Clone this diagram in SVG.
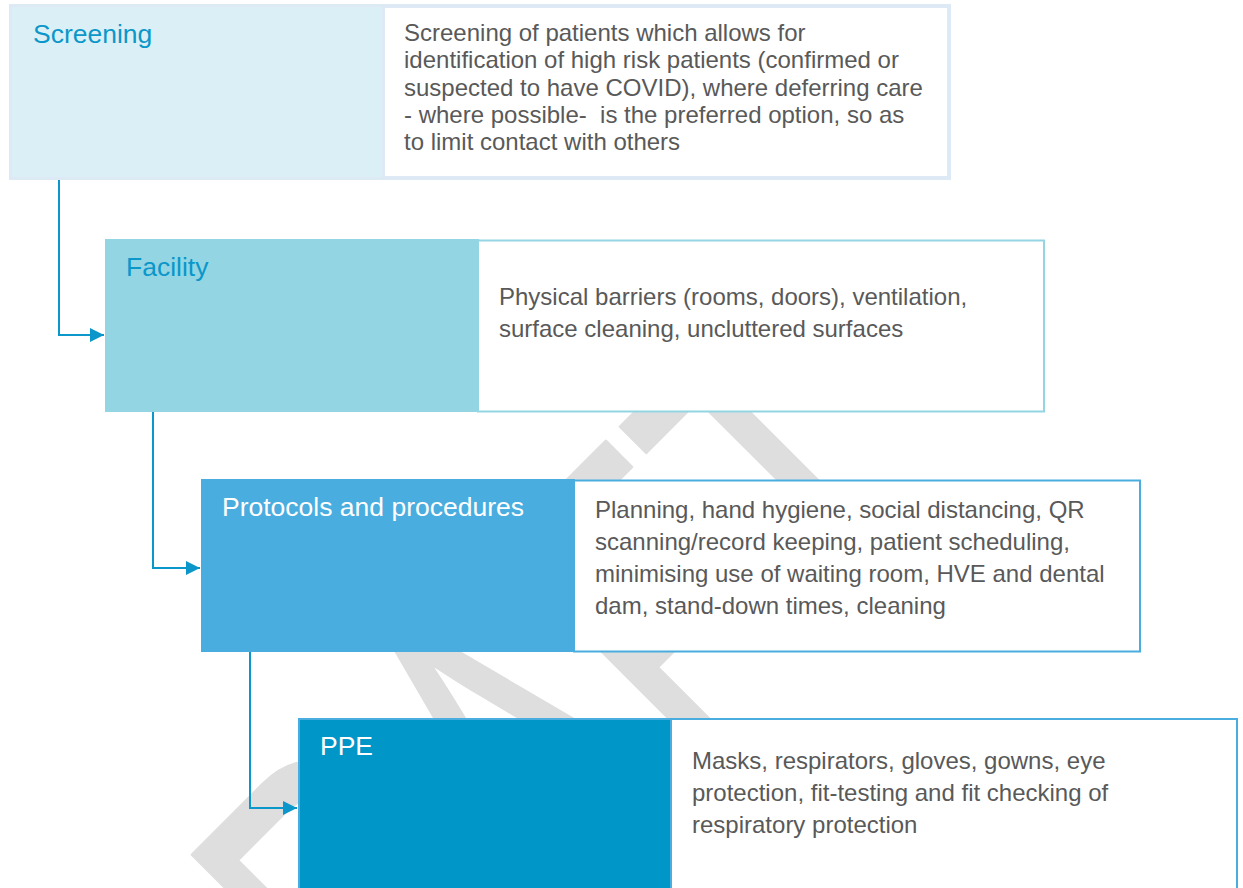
<svg xmlns="http://www.w3.org/2000/svg" width="1243" height="888" viewBox="0 0 1243 888">
<style>
.lbl{font-family:"Liberation Sans",Arial,sans-serif;font-size:26.5px}
.desc{font-family:"Liberation Sans",Arial,sans-serif;font-size:24px;fill:#595959}
.conn{fill:none;stroke:#0b97c9;stroke-width:2}
.wm{font-family:"Liberation Sans",Arial,sans-serif;font-size:480px;fill:#dedede;stroke:#dedede;stroke-width:3;stroke-linejoin:round}
</style>
<defs>
<marker id="arr" viewBox="0 0 10 10" refX="10" refY="5" markerWidth="14" markerHeight="14" markerUnits="userSpaceOnUse" orient="auto">
<path d="M0,0 L10,5 L0,10 z" fill="#0b97c9"/>
</marker>
</defs>
<rect width="1243" height="888" fill="#ffffff"/>
<g id="watermark">
<text class="wm" transform="translate(248,1266) rotate(-45) scale(0.65,1)">DRAFT</text>
</g>
<g id="connectors">
<path class="conn" d="M59,180 V335 H104" marker-end="url(#arr)"/>
<path class="conn" d="M153,412 V568 H200" marker-end="url(#arr)"/>
<path class="conn" d="M250,652 V808 H297" marker-end="url(#arr)"/>
</g>
<g id="screening">
<rect x="383" y="6" width="566" height="172" fill="#ffffff" stroke="#dde9f4" stroke-width="4"/>
<rect x="10.5" y="5.5" width="373" height="173" fill="#daf0f6" stroke="#dde9f4" stroke-width="3"/>
<text class="lbl" x="33" y="43" fill="#0b97c9">Screening</text>
<text class="desc">
<tspan x="404" y="41">Screening of patients which allows for</tspan>
<tspan x="404" y="68.3">identification of high risk patients (confirmed or</tspan>
<tspan x="404" y="95.6">suspected to have COVID), where deferring care</tspan>
<tspan x="404" y="122.9">- where possible-&#160; is the preferred option, so as</tspan>
<tspan x="404" y="150.2">to limit contact with others</tspan>
</text>
</g>
<g id="facility">
<rect x="478" y="240.5" width="566" height="171" fill="#ffffff" stroke="#94d5e3" stroke-width="2"/>
<rect x="105" y="239" width="374" height="173" fill="#94d5e3"/>
<text class="lbl" x="126" y="276" fill="#0b97c9">Facility</text>
<text class="desc">
<tspan x="499" y="305">Physical barriers (rooms, doors), ventilation,</tspan>
<tspan x="499" y="337">surface cleaning, uncluttered surfaces</tspan>
</text>
</g>
<g id="protocols">
<rect x="574" y="480.5" width="566" height="171" fill="#ffffff" stroke="#4aaddf" stroke-width="2"/>
<rect x="201" y="479" width="374" height="173" fill="#4aaddf"/>
<text class="lbl" x="222" y="516" fill="#ffffff">Protocols and procedures</text>
<text class="desc">
<tspan x="595" y="518">Planning, hand hygiene, social distancing, QR</tspan>
<tspan x="595" y="550">scanning/record keeping, patient scheduling,</tspan>
<tspan x="595" y="582">minimising use of waiting room, HVE and dental</tspan>
<tspan x="595" y="614">dam, stand-down times, cleaning</tspan>
</text>
</g>
<g id="ppe">
<rect x="670" y="719" width="567" height="180" fill="#ffffff" stroke="#4aaddf" stroke-width="2"/>
<rect x="299" y="719" width="372" height="180" fill="#0096c8" stroke="#4aaddf" stroke-width="2"/>
<text class="lbl" x="320" y="755" fill="#ffffff">PPE</text>
<text class="desc">
<tspan x="692" y="769">Masks, respirators, gloves, gowns, eye</tspan>
<tspan x="692" y="801">protection, fit-testing and fit checking of</tspan>
<tspan x="692" y="833">respiratory protection</tspan>
</text>
</g>
</svg>
